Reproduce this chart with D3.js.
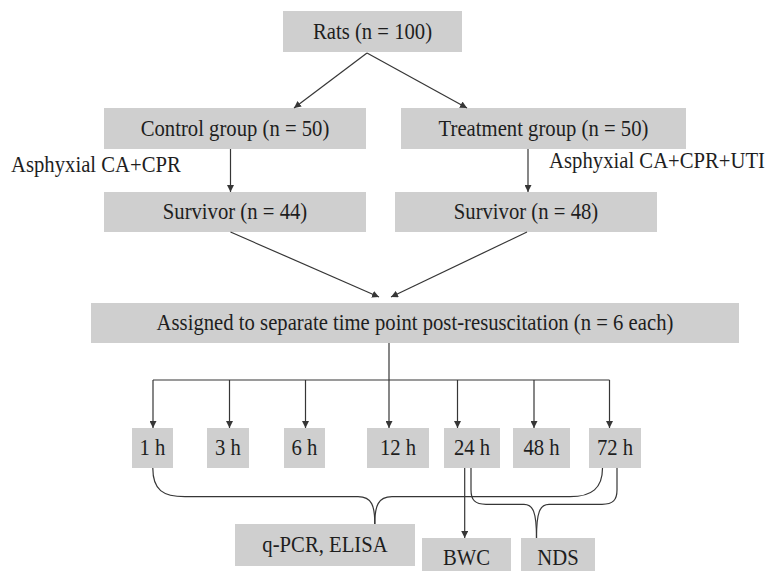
<!DOCTYPE html>
<html>
<head>
<meta charset="utf-8">
<script src="https://cdn.jsdelivr.net/npm/d3@7"></script>
<style>
  body { margin: 0; background: #fff; }
  svg { display: block; }
</style>
</head>
<body>
<svg id="flow"></svg>
<script>
// labels of the flow chart
const topLabels = ["Rats (n = 100)"];
const groupLabels = ["Control group (n = 50)", "Treatment group (n = 50)"];
const treatmentLabels = ["Asphyxial CA+CPR", "Asphyxial CA+CPR+UTI"];
const survivorCounts = [44, 48];
const assignLabels = ["Assigned to separate time point post-resuscitation (n = 6 each)"];
const timePoints = ["1 h", "3 h", "6 h", "12 h", "24 h", "48 h", "72 h"];
const outcomeLabels = ["q-PCR, ELISA", "BWC", "NDS"];

const width = 769;
const height = 571;
const boxFill = "#cfcfcf";
const lineColor = "#363636";
const textColor = "#1e1e1e";
const fontFamily = "'Liberation Serif', 'Times New Roman', serif";
const fontSize = 22.5;
const squeeze = 0.92; // the original type is narrow and tall

// layout (box geometry)
const rowY = { top: 11, group: 108, surv: 192, assign: 303, time: 428 };
const rowH = 41;
const topBox = { x: 283, w: 179 };
const groupBoxes = [{ x: 104, w: 262 }, { x: 401, w: 285 }];
const survBoxes = [{ x: 104, w: 262 }, { x: 395, w: 262 }];
const assignBox = { x: 91, w: 648 };
const timeBoxes = [
  { x: 132, w: 41 }, { x: 207, w: 42 }, { x: 284, w: 41 }, { x: 367, w: 62 },
  { x: 444, w: 56 }, { x: 513, w: 57 }, { x: 589, w: 52 }
];
const timeArrowX = [153, 229.5, 305.5, 389, 457.5, 534, 609.5];
const outcomeBoxes = [
  { x: 235, y: 524, w: 180, h: 42 },
  { x: 422, y: 538, w: 89, h: 40 },
  { x: 521, y: 538, w: 74, h: 40 }
];

const svg = d3.select("#flow")
  .attr("width", width)
  .attr("height", height);

svg.append("defs").append("marker")
  .attr("id", "arrow")
  .attr("viewBox", "0 0 10 10")
  .attr("refX", 10)
  .attr("refY", 5)
  .attr("markerWidth", 7)
  .attr("markerHeight", 7)
  .attr("markerUnits", "userSpaceOnUse")
  .attr("orient", "auto")
  .append("path")
  .attr("d", "M0,0 L10,5 L0,10 Z")
  .attr("fill", lineColor);

function label(x, y, txt, anchor) {
  svg.append("text")
    .attr("transform", `translate(${x},${y}) scale(${squeeze},1)`)
    .attr("text-anchor", anchor || "middle")
    .attr("font-family", fontFamily)
    .attr("font-size", fontSize)
    .attr("fill", textColor)
    .text(txt);
}

function drawBox(b, txt) {
  svg.append("rect")
    .attr("x", b.x).attr("y", b.y)
    .attr("width", b.w).attr("height", b.h)
    .attr("fill", boxFill);
  label(b.x + b.w / 2, b.y + b.h / 2 + fontSize * 0.33, txt);
}

function arrow(x1, y1, x2, y2) {
  svg.append("line")
    .attr("x1", x1).attr("y1", y1)
    .attr("x2", x2).attr("y2", y2)
    .attr("stroke", lineColor)
    .attr("stroke-width", 1.2)
    .attr("marker-end", "url(#arrow)");
}

function line(x1, y1, x2, y2) {
  svg.append("line")
    .attr("x1", x1).attr("y1", y1)
    .attr("x2", x2).attr("y2", y2)
    .attr("stroke", lineColor)
    .attr("stroke-width", 1.2);
}

// boxes
drawBox({ x: topBox.x, y: rowY.top, w: topBox.w, h: rowH }, topLabels[0]);
groupLabels.forEach((l, i) => drawBox({ ...groupBoxes[i], y: rowY.group, h: rowH }, l));
survivorCounts.forEach((n, i) => drawBox({ ...survBoxes[i], y: rowY.surv, h: 40 }, `Survivor (n = ${n})`));
drawBox({ ...assignBox, y: rowY.assign, h: 40 }, assignLabels[0]);
timePoints.forEach((t, i) => drawBox({ ...timeBoxes[i], y: rowY.time, h: 40 }, t));
outcomeLabels.forEach((l, i) => drawBox(outcomeBoxes[i], l));

// side notes
label(11, 172, treatmentLabels[0], "start");
label(765, 168, treatmentLabels[1], "end");

// connectors
const topBottom = rowY.top + rowH;
arrow(367, topBottom + 1, 294, rowY.group);
arrow(367, topBottom + 1, 467, rowY.group);
arrow(230.5, rowY.group + rowH, 230.5, rowY.surv);
arrow(528, rowY.group + rowH, 528, rowY.surv);
arrow(230.5, rowY.surv + 40, 379, rowY.assign - 6);
arrow(527, rowY.surv + 40, 391, rowY.assign - 6);

const busY = 380;
line(389, rowY.assign + 40, 389, busY);
line(timeArrowX[0], busY, timeArrowX[timeArrowX.length - 1], busY);
timeArrowX.forEach(x => arrow(x, busY, x, rowY.time));

const timeBottom = rowY.time + 40;
// 24 h -> BWC
arrow(464.7, timeBottom, 464.7, outcomeBoxes[1].y);

// braces
const brace = svg.append("g")
  .attr("fill", "none")
  .attr("stroke", lineColor)
  .attr("stroke-width", 1.2);
brace.append("path")
  .attr("d", `M152.8,${timeBottom} C152.8,490 163,496.7 185,496.7 L358,496.7 C372,496.7 374.8,506 374.8,524`);
brace.append("path")
  .attr("d", `M602.5,${timeBottom} C602.5,488 592,496.7 570,496.7 L392,496.7 C378,496.7 374.8,506 374.8,524`);
brace.append("path")
  .attr("d", `M471,${timeBottom} L471,490 C471,500 475,504.3 486,504.3 L524,504.3 C533,504.3 536.5,512 536.5,538`);
brace.append("path")
  .attr("d", `M617,${timeBottom} L617,490 C617,500 613,504.3 602,504.3 L549,504.3 C540,504.3 536.5,512 536.5,538`);
</script>
</body>
</html>
